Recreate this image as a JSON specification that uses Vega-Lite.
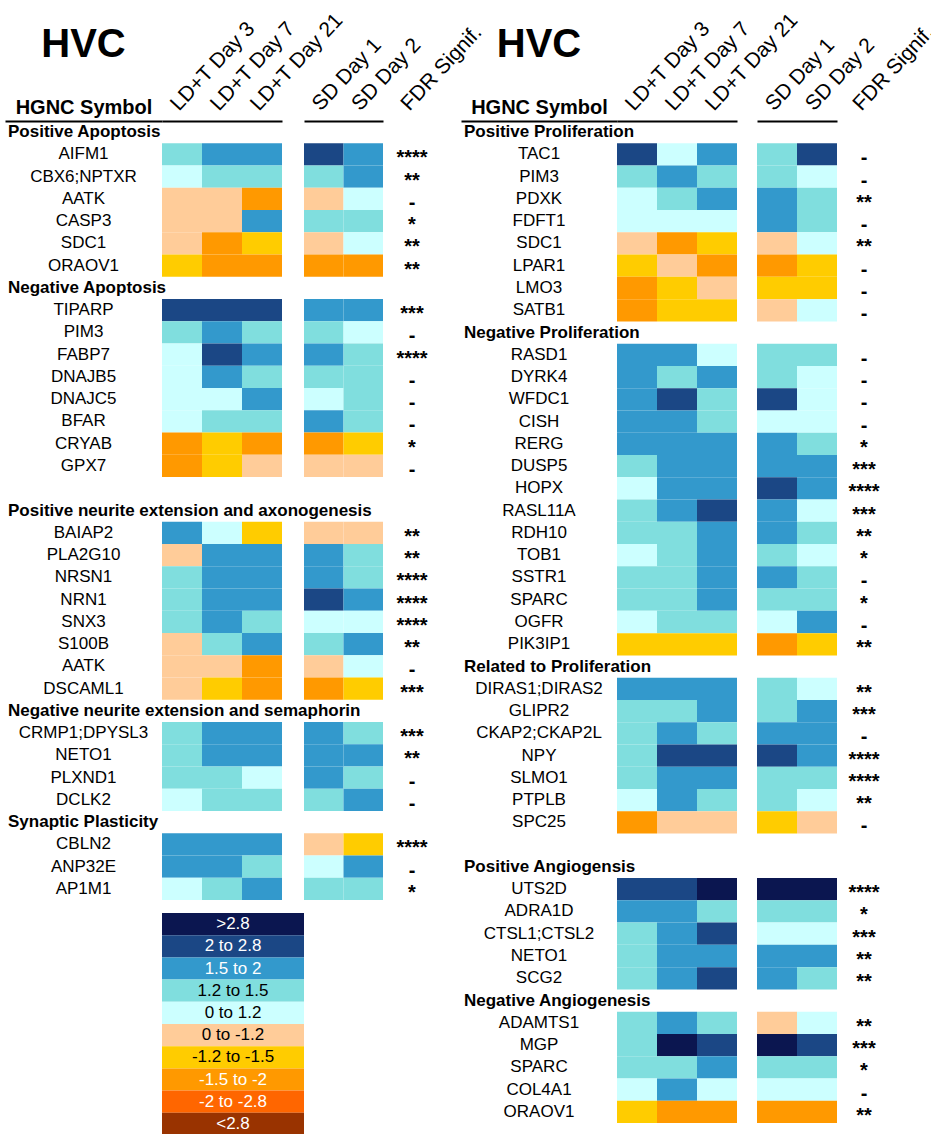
{
  "$schema": "https://vega.github.io/schema/vega-lite/v6.json",
  "background": "white",
  "padding": {"left": 5, "top": 8, "right": 0, "bottom": 0},
  "config": {
    "font": "Liberation Sans",
    "view": {"stroke": null},
    "axis": {"labelColor": "black", "labelFontSize": 21, "domainColor": "black", "domainWidth": 2, "ticks": false, "grid": false, "titleColor": "black", "labelFont": "Liberation Sans"},
    "text": {"color": "black"}
  },
  "datasets": {
    "bins": [
      {"label": ">2.8"}, {"label": "2 to 2.8"}, {"label": "1.5 to 2"}, {"label": "1.2 to 1.5"}, {"label": "0 to 1.2"},
      {"label": "0 to -1.2"}, {"label": "-1.2 to -1.5"}, {"label": "-1.5 to -2"}, {"label": "-2 to -2.8"}, {"label": "<2.8"}
    ],
    "L": [
      {"r": 1, "h": "Positive Apoptosis"},
      {"r": 2, "g": "AIFM1", "LD+T Day 3": "1.2 to 1.5", "LD+T Day 7": "1.5 to 2", "LD+T Day 21": "1.5 to 2", "SD Day 1": "2 to 2.8", "SD Day 2": "1.5 to 2", "f": "****"},
      {"r": 3, "g": "CBX6;NPTXR", "LD+T Day 3": "0 to 1.2", "LD+T Day 7": "1.2 to 1.5", "LD+T Day 21": "1.2 to 1.5", "SD Day 1": "1.2 to 1.5", "SD Day 2": "1.5 to 2", "f": "**"},
      {"r": 4, "g": "AATK", "LD+T Day 3": "0 to -1.2", "LD+T Day 7": "0 to -1.2", "LD+T Day 21": "-1.5 to -2", "SD Day 1": "0 to -1.2", "SD Day 2": "0 to 1.2", "f": "-"},
      {"r": 5, "g": "CASP3", "LD+T Day 3": "0 to -1.2", "LD+T Day 7": "0 to -1.2", "LD+T Day 21": "1.5 to 2", "SD Day 1": "1.2 to 1.5", "SD Day 2": "1.2 to 1.5", "f": "*"},
      {"r": 6, "g": "SDC1", "LD+T Day 3": "0 to -1.2", "LD+T Day 7": "-1.5 to -2", "LD+T Day 21": "-1.2 to -1.5", "SD Day 1": "0 to -1.2", "SD Day 2": "0 to 1.2", "f": "**"},
      {"r": 7, "g": "ORAOV1", "LD+T Day 3": "-1.2 to -1.5", "LD+T Day 7": "-1.5 to -2", "LD+T Day 21": "-1.5 to -2", "SD Day 1": "-1.5 to -2", "SD Day 2": "-1.5 to -2", "f": "**"},
      {"r": 8, "h": "Negative Apoptosis"},
      {"r": 9, "g": "TIPARP", "LD+T Day 3": "2 to 2.8", "LD+T Day 7": "2 to 2.8", "LD+T Day 21": "2 to 2.8", "SD Day 1": "1.5 to 2", "SD Day 2": "1.5 to 2", "f": "***"},
      {"r": 10, "g": "PIM3", "LD+T Day 3": "1.2 to 1.5", "LD+T Day 7": "1.5 to 2", "LD+T Day 21": "1.2 to 1.5", "SD Day 1": "1.2 to 1.5", "SD Day 2": "0 to 1.2", "f": "-"},
      {"r": 11, "g": "FABP7", "LD+T Day 3": "0 to 1.2", "LD+T Day 7": "2 to 2.8", "LD+T Day 21": "1.5 to 2", "SD Day 1": "1.5 to 2", "SD Day 2": "1.2 to 1.5", "f": "****"},
      {"r": 12, "g": "DNAJB5", "LD+T Day 3": "0 to 1.2", "LD+T Day 7": "1.5 to 2", "LD+T Day 21": "1.2 to 1.5", "SD Day 1": "1.2 to 1.5", "SD Day 2": "1.2 to 1.5", "f": "-"},
      {"r": 13, "g": "DNAJC5", "LD+T Day 3": "0 to 1.2", "LD+T Day 7": "0 to 1.2", "LD+T Day 21": "1.5 to 2", "SD Day 1": "0 to 1.2", "SD Day 2": "1.2 to 1.5", "f": "-"},
      {"r": 14, "g": "BFAR", "LD+T Day 3": "0 to 1.2", "LD+T Day 7": "1.2 to 1.5", "LD+T Day 21": "1.2 to 1.5", "SD Day 1": "1.5 to 2", "SD Day 2": "1.2 to 1.5", "f": "-"},
      {"r": 15, "g": "CRYAB", "LD+T Day 3": "-1.5 to -2", "LD+T Day 7": "-1.2 to -1.5", "LD+T Day 21": "-1.5 to -2", "SD Day 1": "-1.5 to -2", "SD Day 2": "-1.2 to -1.5", "f": "*"},
      {"r": 16, "g": "GPX7", "LD+T Day 3": "-1.5 to -2", "LD+T Day 7": "-1.2 to -1.5", "LD+T Day 21": "0 to -1.2", "SD Day 1": "0 to -1.2", "SD Day 2": "0 to -1.2", "f": "-"},
      {"r": 18, "h": "Positive neurite extension and axonogenesis"},
      {"r": 19, "g": "BAIAP2", "LD+T Day 3": "1.5 to 2", "LD+T Day 7": "0 to 1.2", "LD+T Day 21": "-1.2 to -1.5", "SD Day 1": "0 to -1.2", "SD Day 2": "0 to -1.2", "f": "**"},
      {"r": 20, "g": "PLA2G10", "LD+T Day 3": "0 to -1.2", "LD+T Day 7": "1.5 to 2", "LD+T Day 21": "1.5 to 2", "SD Day 1": "1.5 to 2", "SD Day 2": "1.2 to 1.5", "f": "**"},
      {"r": 21, "g": "NRSN1", "LD+T Day 3": "1.2 to 1.5", "LD+T Day 7": "1.5 to 2", "LD+T Day 21": "1.5 to 2", "SD Day 1": "1.5 to 2", "SD Day 2": "1.2 to 1.5", "f": "****"},
      {"r": 22, "g": "NRN1", "LD+T Day 3": "1.2 to 1.5", "LD+T Day 7": "1.5 to 2", "LD+T Day 21": "1.5 to 2", "SD Day 1": "2 to 2.8", "SD Day 2": "1.5 to 2", "f": "****"},
      {"r": 23, "g": "SNX3", "LD+T Day 3": "1.2 to 1.5", "LD+T Day 7": "1.5 to 2", "LD+T Day 21": "1.2 to 1.5", "SD Day 1": "0 to 1.2", "SD Day 2": "0 to 1.2", "f": "****"},
      {"r": 24, "g": "S100B", "LD+T Day 3": "0 to -1.2", "LD+T Day 7": "1.2 to 1.5", "LD+T Day 21": "1.5 to 2", "SD Day 1": "1.2 to 1.5", "SD Day 2": "1.5 to 2", "f": "**"},
      {"r": 25, "g": "AATK", "LD+T Day 3": "0 to -1.2", "LD+T Day 7": "0 to -1.2", "LD+T Day 21": "-1.5 to -2", "SD Day 1": "0 to -1.2", "SD Day 2": "0 to 1.2", "f": "-"},
      {"r": 26, "g": "DSCAML1", "LD+T Day 3": "0 to -1.2", "LD+T Day 7": "-1.2 to -1.5", "LD+T Day 21": "-1.5 to -2", "SD Day 1": "-1.5 to -2", "SD Day 2": "-1.2 to -1.5", "f": "***"},
      {"r": 27, "h": "Negative neurite extension and semaphorin"},
      {"r": 28, "g": "CRMP1;DPYSL3", "LD+T Day 3": "1.2 to 1.5", "LD+T Day 7": "1.5 to 2", "LD+T Day 21": "1.5 to 2", "SD Day 1": "1.5 to 2", "SD Day 2": "1.2 to 1.5", "f": "***"},
      {"r": 29, "g": "NETO1", "LD+T Day 3": "1.2 to 1.5", "LD+T Day 7": "1.5 to 2", "LD+T Day 21": "1.5 to 2", "SD Day 1": "1.5 to 2", "SD Day 2": "1.5 to 2", "f": "**"},
      {"r": 30, "g": "PLXND1", "LD+T Day 3": "1.2 to 1.5", "LD+T Day 7": "1.2 to 1.5", "LD+T Day 21": "0 to 1.2", "SD Day 1": "1.5 to 2", "SD Day 2": "1.2 to 1.5", "f": "-"},
      {"r": 31, "g": "DCLK2", "LD+T Day 3": "0 to 1.2", "LD+T Day 7": "1.2 to 1.5", "LD+T Day 21": "1.2 to 1.5", "SD Day 1": "1.2 to 1.5", "SD Day 2": "1.5 to 2", "f": "-"},
      {"r": 32, "h": "Synaptic Plasticity"},
      {"r": 33, "g": "CBLN2", "LD+T Day 3": "1.5 to 2", "LD+T Day 7": "1.5 to 2", "LD+T Day 21": "1.5 to 2", "SD Day 1": "0 to -1.2", "SD Day 2": "-1.2 to -1.5", "f": "****"},
      {"r": 34, "g": "ANP32E", "LD+T Day 3": "1.5 to 2", "LD+T Day 7": "1.5 to 2", "LD+T Day 21": "1.2 to 1.5", "SD Day 1": "0 to 1.2", "SD Day 2": "1.5 to 2", "f": "-"},
      {"r": 35, "g": "AP1M1", "LD+T Day 3": "0 to 1.2", "LD+T Day 7": "1.2 to 1.5", "LD+T Day 21": "1.5 to 2", "SD Day 1": "1.2 to 1.5", "SD Day 2": "1.2 to 1.5", "f": "*"}
    ],
    "R": [
      {"r": 1, "h": "Positive Proliferation"},
      {"r": 2, "g": "TAC1", "LD+T Day 3": "2 to 2.8", "LD+T Day 7": "0 to 1.2", "LD+T Day 21": "1.5 to 2", "SD Day 1": "1.2 to 1.5", "SD Day 2": "2 to 2.8", "f": "-"},
      {"r": 3, "g": "PIM3", "LD+T Day 3": "1.2 to 1.5", "LD+T Day 7": "1.5 to 2", "LD+T Day 21": "1.2 to 1.5", "SD Day 1": "1.2 to 1.5", "SD Day 2": "0 to 1.2", "f": "-"},
      {"r": 4, "g": "PDXK", "LD+T Day 3": "0 to 1.2", "LD+T Day 7": "1.2 to 1.5", "LD+T Day 21": "1.5 to 2", "SD Day 1": "1.5 to 2", "SD Day 2": "1.2 to 1.5", "f": "**"},
      {"r": 5, "g": "FDFT1", "LD+T Day 3": "0 to 1.2", "LD+T Day 7": "0 to 1.2", "LD+T Day 21": "0 to 1.2", "SD Day 1": "1.5 to 2", "SD Day 2": "1.2 to 1.5", "f": "-"},
      {"r": 6, "g": "SDC1", "LD+T Day 3": "0 to -1.2", "LD+T Day 7": "-1.5 to -2", "LD+T Day 21": "-1.2 to -1.5", "SD Day 1": "0 to -1.2", "SD Day 2": "0 to 1.2", "f": "**"},
      {"r": 7, "g": "LPAR1", "LD+T Day 3": "-1.2 to -1.5", "LD+T Day 7": "0 to -1.2", "LD+T Day 21": "-1.5 to -2", "SD Day 1": "-1.5 to -2", "SD Day 2": "-1.2 to -1.5", "f": "-"},
      {"r": 8, "g": "LMO3", "LD+T Day 3": "-1.5 to -2", "LD+T Day 7": "-1.2 to -1.5", "LD+T Day 21": "0 to -1.2", "SD Day 1": "-1.2 to -1.5", "SD Day 2": "-1.2 to -1.5", "f": "-"},
      {"r": 9, "g": "SATB1", "LD+T Day 3": "-1.5 to -2", "LD+T Day 7": "-1.2 to -1.5", "LD+T Day 21": "-1.2 to -1.5", "SD Day 1": "0 to -1.2", "SD Day 2": "0 to 1.2", "f": "-"},
      {"r": 10, "h": "Negative Proliferation"},
      {"r": 11, "g": "RASD1", "LD+T Day 3": "1.5 to 2", "LD+T Day 7": "1.5 to 2", "LD+T Day 21": "0 to 1.2", "SD Day 1": "1.2 to 1.5", "SD Day 2": "1.2 to 1.5", "f": "-"},
      {"r": 12, "g": "DYRK4", "LD+T Day 3": "1.5 to 2", "LD+T Day 7": "1.2 to 1.5", "LD+T Day 21": "1.5 to 2", "SD Day 1": "1.2 to 1.5", "SD Day 2": "0 to 1.2", "f": "-"},
      {"r": 13, "g": "WFDC1", "LD+T Day 3": "1.5 to 2", "LD+T Day 7": "2 to 2.8", "LD+T Day 21": "1.2 to 1.5", "SD Day 1": "2 to 2.8", "SD Day 2": "0 to 1.2", "f": "-"},
      {"r": 14, "g": "CISH", "LD+T Day 3": "1.5 to 2", "LD+T Day 7": "1.5 to 2", "LD+T Day 21": "1.2 to 1.5", "SD Day 1": "0 to 1.2", "SD Day 2": "0 to 1.2", "f": "-"},
      {"r": 15, "g": "RERG", "LD+T Day 3": "1.5 to 2", "LD+T Day 7": "1.5 to 2", "LD+T Day 21": "1.5 to 2", "SD Day 1": "1.5 to 2", "SD Day 2": "1.2 to 1.5", "f": "*"},
      {"r": 16, "g": "DUSP5", "LD+T Day 3": "1.2 to 1.5", "LD+T Day 7": "1.5 to 2", "LD+T Day 21": "1.5 to 2", "SD Day 1": "1.5 to 2", "SD Day 2": "1.5 to 2", "f": "***"},
      {"r": 17, "g": "HOPX", "LD+T Day 3": "0 to 1.2", "LD+T Day 7": "1.5 to 2", "LD+T Day 21": "1.5 to 2", "SD Day 1": "2 to 2.8", "SD Day 2": "1.5 to 2", "f": "****"},
      {"r": 18, "g": "RASL11A", "LD+T Day 3": "1.2 to 1.5", "LD+T Day 7": "1.5 to 2", "LD+T Day 21": "2 to 2.8", "SD Day 1": "1.5 to 2", "SD Day 2": "0 to 1.2", "f": "***"},
      {"r": 19, "g": "RDH10", "LD+T Day 3": "1.2 to 1.5", "LD+T Day 7": "1.2 to 1.5", "LD+T Day 21": "1.5 to 2", "SD Day 1": "1.5 to 2", "SD Day 2": "1.2 to 1.5", "f": "**"},
      {"r": 20, "g": "TOB1", "LD+T Day 3": "0 to 1.2", "LD+T Day 7": "1.2 to 1.5", "LD+T Day 21": "1.5 to 2", "SD Day 1": "1.2 to 1.5", "SD Day 2": "0 to 1.2", "f": "*"},
      {"r": 21, "g": "SSTR1", "LD+T Day 3": "1.2 to 1.5", "LD+T Day 7": "1.2 to 1.5", "LD+T Day 21": "1.5 to 2", "SD Day 1": "1.5 to 2", "SD Day 2": "1.2 to 1.5", "f": "-"},
      {"r": 22, "g": "SPARC", "LD+T Day 3": "1.2 to 1.5", "LD+T Day 7": "1.2 to 1.5", "LD+T Day 21": "1.5 to 2", "SD Day 1": "1.2 to 1.5", "SD Day 2": "1.2 to 1.5", "f": "*"},
      {"r": 23, "g": "OGFR", "LD+T Day 3": "0 to 1.2", "LD+T Day 7": "1.2 to 1.5", "LD+T Day 21": "1.2 to 1.5", "SD Day 1": "0 to 1.2", "SD Day 2": "1.5 to 2", "f": "-"},
      {"r": 24, "g": "PIK3IP1", "LD+T Day 3": "-1.2 to -1.5", "LD+T Day 7": "-1.2 to -1.5", "LD+T Day 21": "-1.2 to -1.5", "SD Day 1": "-1.5 to -2", "SD Day 2": "-1.2 to -1.5", "f": "**"},
      {"r": 25, "h": "Related to Proliferation"},
      {"r": 26, "g": "DIRAS1;DIRAS2", "LD+T Day 3": "1.5 to 2", "LD+T Day 7": "1.5 to 2", "LD+T Day 21": "1.5 to 2", "SD Day 1": "1.2 to 1.5", "SD Day 2": "0 to 1.2", "f": "**"},
      {"r": 27, "g": "GLIPR2", "LD+T Day 3": "1.2 to 1.5", "LD+T Day 7": "1.2 to 1.5", "LD+T Day 21": "1.5 to 2", "SD Day 1": "1.2 to 1.5", "SD Day 2": "1.5 to 2", "f": "***"},
      {"r": 28, "g": "CKAP2;CKAP2L", "LD+T Day 3": "1.2 to 1.5", "LD+T Day 7": "1.5 to 2", "LD+T Day 21": "1.2 to 1.5", "SD Day 1": "1.5 to 2", "SD Day 2": "1.5 to 2", "f": "-"},
      {"r": 29, "g": "NPY", "LD+T Day 3": "1.2 to 1.5", "LD+T Day 7": "2 to 2.8", "LD+T Day 21": "2 to 2.8", "SD Day 1": "2 to 2.8", "SD Day 2": "1.5 to 2", "f": "****"},
      {"r": 30, "g": "SLMO1", "LD+T Day 3": "1.2 to 1.5", "LD+T Day 7": "1.5 to 2", "LD+T Day 21": "1.5 to 2", "SD Day 1": "1.2 to 1.5", "SD Day 2": "1.2 to 1.5", "f": "****"},
      {"r": 31, "g": "PTPLB", "LD+T Day 3": "0 to 1.2", "LD+T Day 7": "1.5 to 2", "LD+T Day 21": "1.2 to 1.5", "SD Day 1": "1.2 to 1.5", "SD Day 2": "0 to 1.2", "f": "**"},
      {"r": 32, "g": "SPC25", "LD+T Day 3": "-1.5 to -2", "LD+T Day 7": "0 to -1.2", "LD+T Day 21": "0 to -1.2", "SD Day 1": "-1.2 to -1.5", "SD Day 2": "0 to -1.2", "f": "-"},
      {"r": 34, "h": "Positive Angiogensis"},
      {"r": 35, "g": "UTS2D", "LD+T Day 3": "2 to 2.8", "LD+T Day 7": "2 to 2.8", "LD+T Day 21": ">2.8", "SD Day 1": ">2.8", "SD Day 2": ">2.8", "f": "****"},
      {"r": 36, "g": "ADRA1D", "LD+T Day 3": "1.5 to 2", "LD+T Day 7": "1.5 to 2", "LD+T Day 21": "1.2 to 1.5", "SD Day 1": "1.2 to 1.5", "SD Day 2": "1.2 to 1.5", "f": "*"},
      {"r": 37, "g": "CTSL1;CTSL2", "LD+T Day 3": "1.2 to 1.5", "LD+T Day 7": "1.5 to 2", "LD+T Day 21": "2 to 2.8", "SD Day 1": "0 to 1.2", "SD Day 2": "0 to 1.2", "f": "***"},
      {"r": 38, "g": "NETO1", "LD+T Day 3": "1.2 to 1.5", "LD+T Day 7": "1.5 to 2", "LD+T Day 21": "1.5 to 2", "SD Day 1": "1.5 to 2", "SD Day 2": "1.5 to 2", "f": "**"},
      {"r": 39, "g": "SCG2", "LD+T Day 3": "1.2 to 1.5", "LD+T Day 7": "1.5 to 2", "LD+T Day 21": "2 to 2.8", "SD Day 1": "1.5 to 2", "SD Day 2": "1.2 to 1.5", "f": "**"},
      {"r": 40, "h": "Negative Angiogenesis"},
      {"r": 41, "g": "ADAMTS1", "LD+T Day 3": "1.2 to 1.5", "LD+T Day 7": "1.5 to 2", "LD+T Day 21": "1.2 to 1.5", "SD Day 1": "0 to -1.2", "SD Day 2": "0 to 1.2", "f": "**"},
      {"r": 42, "g": "MGP", "LD+T Day 3": "1.2 to 1.5", "LD+T Day 7": ">2.8", "LD+T Day 21": "2 to 2.8", "SD Day 1": ">2.8", "SD Day 2": "2 to 2.8", "f": "***"},
      {"r": 43, "g": "SPARC", "LD+T Day 3": "1.2 to 1.5", "LD+T Day 7": "1.2 to 1.5", "LD+T Day 21": "1.5 to 2", "SD Day 1": "1.2 to 1.5", "SD Day 2": "1.2 to 1.5", "f": "*"},
      {"r": 44, "g": "COL4A1", "LD+T Day 3": "0 to 1.2", "LD+T Day 7": "1.5 to 2", "LD+T Day 21": "0 to 1.2", "SD Day 1": "0 to 1.2", "SD Day 2": "0 to 1.2", "f": "-"},
      {"r": 45, "g": "ORAOV1", "LD+T Day 3": "-1.2 to -1.5", "LD+T Day 7": "-1.5 to -2", "LD+T Day 21": "-1.5 to -2", "SD Day 1": "-1.5 to -2", "SD Day 2": "-1.5 to -2", "f": "**"}
    ]
  },
  "spacing": 0,
  "bounds": "flush",
  "hconcat": [
    {
      "width": 157, "height": 779,
      "data": {"name": "L"},
      "title": {"text": "HVC", "fontSize": 40, "fontWeight": "bold", "anchor": "middle", "offset": 32, "color": "black"},
      "layer": [
        {
          "transform": [{"filter": "datum.h"}],
          "mark": {"type": "text", "align": "left", "fontWeight": "bold", "fontSize": 17, "dx": 3},
          "encoding": {
            "x": {"datum": 0, "type": "quantitative", "scale": {"domain": [0, 1]}, "axis": {"orient": "top", "title": "HGNC Symbol", "titleFontSize": 20, "titleFontWeight": "bold", "titlePadding": 4, "labels": false, "ticks": false, "grid": false}},
            "y": {"field": "r", "type": "ordinal", "scale": {"domain": [1,2,3,4,5,6,7,8,9,10,11,12,13,14,15,16,17,18,19,20,21,22,23,24,25,26,27,28,29,30,31,32,33,34,35], "paddingInner": 0, "paddingOuter": 0}, "axis": null},
            "text": {"field": "h"}
          }
        },
        {
          "transform": [{"filter": "datum.g"}],
          "mark": {"type": "text", "fontSize": 17},
          "encoding": {
            "x": {"datum": 0.5, "type": "quantitative"},
            "y": {"field": "r", "type": "ordinal"},
            "text": {"field": "g"}
          }
        }
      ]
    },
    {
      "width": 142, "height": 779,
      "resolve": {"scale": {"y": "independent"}},
      "layer": [
        {
          "data": {"name": "L"},
          "transform": [{"filter": "datum.g"}, {"fold": ["LD+T Day 3", "LD+T Day 7", "LD+T Day 21"], "as": ["col", "bin"]}],
          "mark": "rect",
          "encoding": {
            "x": {"field": "col", "type": "nominal", "scale": {"domain": ["LD+T Day 3", "LD+T Day 7", "LD+T Day 21"], "range": [0, 120], "paddingInner": 0, "paddingOuter": 0}, "axis": {"orient": "top", "title": null, "labelAngle": -47, "labelAlign": "left", "labelBaseline": "bottom", "labelPadding": 7}},
            "y": {"field": "r", "type": "ordinal", "scale": {"domain": [1,2,3,4,5,6,7,8,9,10,11,12,13,14,15,16,17,18,19,20,21,22,23,24,25,26,27,28,29,30,31,32,33,34,35], "paddingInner": 0, "paddingOuter": 0}, "axis": null},
            "color": {"field": "bin", "type": "nominal", "scale": {"domain": [">2.8", "2 to 2.8", "1.5 to 2", "1.2 to 1.5", "0 to 1.2", "0 to -1.2", "-1.2 to -1.5", "-1.5 to -2", "-2 to -2.8", "<2.8"], "range": ["#0b1650", "#1b4785", "#3399cc", "#80dede", "#ccffff", "#ffcc99", "#ffcc00", "#ff9900", "#ff6600", "#993300"]}, "legend": null}
          }
        },
        {
          "data": {"name": "bins"},
          "layer": [
            {
              "mark": "rect",
              "encoding": {
                "y": {"field": "label", "type": "nominal", "sort": null, "scale": {"domain": [">2.8", "2 to 2.8", "1.5 to 2", "1.2 to 1.5", "0 to 1.2", "0 to -1.2", "-1.2 to -1.5", "-1.5 to -2", "-2 to -2.8", "<2.8"], "range": [792, 1014], "paddingInner": 0, "paddingOuter": 0}, "axis": null},
                "color": {"field": "label", "type": "nominal", "legend": null}
              }
            },
            {
              "mark": {"type": "text", "fontSize": 17},
              "encoding": {
                "y": {"field": "label", "type": "nominal", "sort": null},
                "text": {"field": "label"},
                "color": {"condition": {"test": "indexof(['>2.8','2 to 2.8','1.5 to 2','-1.5 to -2','-2 to -2.8','<2.8'], datum.label) >= 0", "value": "white"}, "value": "black"}
              }
            }
          ]
        }
      ]
    },
    {
      "width": 79, "height": 779,
      "data": {"name": "L"},
      "transform": [{"filter": "datum.g"}, {"fold": ["SD Day 1", "SD Day 2"], "as": ["col", "bin"]}],
      "mark": "rect",
      "encoding": {
        "x": {"field": "col", "type": "nominal", "scale": {"domain": ["SD Day 1", "SD Day 2"], "paddingInner": 0, "paddingOuter": 0}, "axis": {"orient": "top", "title": null, "labelAngle": -47, "labelAlign": "left", "labelBaseline": "bottom", "labelPadding": 7}},
        "y": {"field": "r", "type": "ordinal", "scale": {"domain": [1,2,3,4,5,6,7,8,9,10,11,12,13,14,15,16,17,18,19,20,21,22,23,24,25,26,27,28,29,30,31,32,33,34,35], "paddingInner": 0, "paddingOuter": 0}, "axis": null},
        "color": {"field": "bin", "type": "nominal", "scale": {"domain": [">2.8", "2 to 2.8", "1.5 to 2", "1.2 to 1.5", "0 to 1.2", "0 to -1.2", "-1.2 to -1.5", "-1.5 to -2", "-2 to -2.8", "<2.8"], "range": ["#0b1650", "#1b4785", "#3399cc", "#80dede", "#ccffff", "#ffcc99", "#ffcc00", "#ff9900", "#ff6600", "#993300"]}, "legend": null}
      }
    },
    {
      "width": 78, "height": 779,
      "data": {"name": "L"},
      "transform": [{"filter": "datum.g"}],
      "mark": {"type": "text", "fontSize": 20, "fontWeight": "bold", "dy": 4},
      "encoding": {
        "x": {"datum": "FDR Signif.", "type": "nominal", "scale": {"domain": ["FDR Signif."], "range": [0, 58], "paddingInner": 0, "paddingOuter": 0}, "axis": {"orient": "top", "title": null, "domain": false, "labelAngle": -47, "labelAlign": "left", "labelBaseline": "bottom", "labelPadding": 7}},
        "y": {"field": "r", "type": "ordinal", "scale": {"domain": [1,2,3,4,5,6,7,8,9,10,11,12,13,14,15,16,17,18,19,20,21,22,23,24,25,26,27,28,29,30,31,32,33,34,35], "paddingInner": 0, "paddingOuter": 0}, "axis": null},
        "text": {"field": "f"}
      }
    },
    {
      "width": 156, "height": 1002,
      "data": {"name": "R"},
      "title": {"text": "HVC", "fontSize": 40, "fontWeight": "bold", "anchor": "middle", "offset": 32, "color": "black"},
      "layer": [
        {
          "transform": [{"filter": "datum.h"}],
          "mark": {"type": "text", "align": "left", "fontWeight": "bold", "fontSize": 17, "dx": 3},
          "encoding": {
            "x": {"datum": 0, "type": "quantitative", "scale": {"domain": [0, 1]}, "axis": {"orient": "top", "title": "HGNC Symbol", "titleFontSize": 20, "titleFontWeight": "bold", "titlePadding": 4, "labels": false, "ticks": false, "grid": false}},
            "y": {"field": "r", "type": "ordinal", "scale": {"domain": [1,2,3,4,5,6,7,8,9,10,11,12,13,14,15,16,17,18,19,20,21,22,23,24,25,26,27,28,29,30,31,32,33,34,35,36,37,38,39,40,41,42,43,44,45], "paddingInner": 0, "paddingOuter": 0}, "axis": null},
            "text": {"field": "h"}
          }
        },
        {
          "transform": [{"filter": "datum.g"}],
          "mark": {"type": "text", "fontSize": 17},
          "encoding": {
            "x": {"datum": 0.5, "type": "quantitative"},
            "y": {"field": "r", "type": "ordinal"},
            "text": {"field": "g"}
          }
        }
      ]
    },
    {
      "width": 140, "height": 1002,
      "data": {"name": "R"},
      "transform": [{"filter": "datum.g"}, {"fold": ["LD+T Day 3", "LD+T Day 7", "LD+T Day 21"], "as": ["col", "bin"]}],
      "mark": "rect",
      "encoding": {
        "x": {"field": "col", "type": "nominal", "scale": {"domain": ["LD+T Day 3", "LD+T Day 7", "LD+T Day 21"], "range": [0, 120], "paddingInner": 0, "paddingOuter": 0}, "axis": {"orient": "top", "title": null, "labelAngle": -47, "labelAlign": "left", "labelBaseline": "bottom", "labelPadding": 7}},
        "y": {"field": "r", "type": "ordinal", "scale": {"domain": [1,2,3,4,5,6,7,8,9,10,11,12,13,14,15,16,17,18,19,20,21,22,23,24,25,26,27,28,29,30,31,32,33,34,35,36,37,38,39,40,41,42,43,44,45], "paddingInner": 0, "paddingOuter": 0}, "axis": null},
        "color": {"field": "bin", "type": "nominal", "scale": {"domain": [">2.8", "2 to 2.8", "1.5 to 2", "1.2 to 1.5", "0 to 1.2", "0 to -1.2", "-1.2 to -1.5", "-1.5 to -2", "-2 to -2.8", "<2.8"], "range": ["#0b1650", "#1b4785", "#3399cc", "#80dede", "#ccffff", "#ffcc99", "#ffcc00", "#ff9900", "#ff6600", "#993300"]}, "legend": null}
      }
    },
    {
      "width": 80, "height": 1002,
      "data": {"name": "R"},
      "transform": [{"filter": "datum.g"}, {"fold": ["SD Day 1", "SD Day 2"], "as": ["col", "bin"]}],
      "mark": "rect",
      "encoding": {
        "x": {"field": "col", "type": "nominal", "scale": {"domain": ["SD Day 1", "SD Day 2"], "paddingInner": 0, "paddingOuter": 0}, "axis": {"orient": "top", "title": null, "labelAngle": -47, "labelAlign": "left", "labelBaseline": "bottom", "labelPadding": 7}},
        "y": {"field": "r", "type": "ordinal", "scale": {"domain": [1,2,3,4,5,6,7,8,9,10,11,12,13,14,15,16,17,18,19,20,21,22,23,24,25,26,27,28,29,30,31,32,33,34,35,36,37,38,39,40,41,42,43,44,45], "paddingInner": 0, "paddingOuter": 0}, "axis": null},
        "color": {"field": "bin", "type": "nominal", "scale": {"domain": [">2.8", "2 to 2.8", "1.5 to 2", "1.2 to 1.5", "0 to 1.2", "0 to -1.2", "-1.2 to -1.5", "-1.5 to -2", "-2 to -2.8", "<2.8"], "range": ["#0b1650", "#1b4785", "#3399cc", "#80dede", "#ccffff", "#ffcc99", "#ffcc00", "#ff9900", "#ff6600", "#993300"]}, "legend": null}
      }
    },
    {
      "width": 54, "height": 1002,
      "data": {"name": "R"},
      "transform": [{"filter": "datum.g"}],
      "mark": {"type": "text", "fontSize": 20, "fontWeight": "bold", "dy": 4},
      "encoding": {
        "x": {"datum": "FDR Signif.", "type": "nominal", "scale": {"domain": ["FDR Signif."], "paddingInner": 0, "paddingOuter": 0}, "axis": {"orient": "top", "title": null, "domain": false, "labelAngle": -47, "labelAlign": "left", "labelBaseline": "bottom", "labelPadding": 7}},
        "y": {"field": "r", "type": "ordinal", "scale": {"domain": [1,2,3,4,5,6,7,8,9,10,11,12,13,14,15,16,17,18,19,20,21,22,23,24,25,26,27,28,29,30,31,32,33,34,35,36,37,38,39,40,41,42,43,44,45], "paddingInner": 0, "paddingOuter": 0}, "axis": null},
        "text": {"field": "f"}
      }
    }
  ]
}
